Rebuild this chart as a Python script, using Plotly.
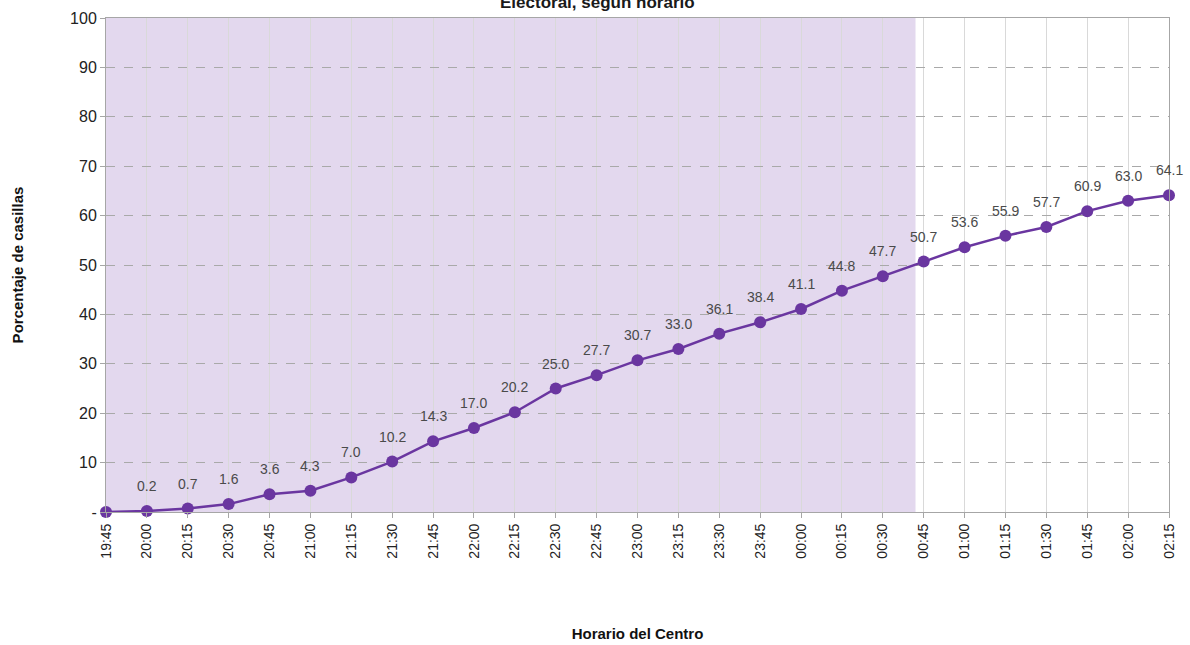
import plotly.graph_objects as go

horas = ["19:45", "20:00", "20:15", "20:30", "20:45", "21:00", "21:15", "21:30", "21:45",
         "22:00", "22:15", "22:30", "22:45", "23:00", "23:15", "23:30", "23:45", "00:00",
         "00:15", "00:30", "00:45", "01:00", "01:15", "01:30", "01:45", "02:00", "02:15"]
porcentaje = [0.0, 0.2, 0.7, 1.6, 3.6, 4.3, 7.0, 10.2, 14.3, 17.0, 20.2, 25.0, 27.7, 30.7,
              33.0, 36.1, 38.4, 41.1, 44.8, 47.7, 50.7, 53.6, 55.9, 57.7, 60.9, 63.0, 64.1]
etiquetas = ["" if v == 0 else f"{v:.1f}" for v in porcentaje]
y_ticks = [0, 10, 20, 30, 40, 50, 60, 70, 80, 90, 100]
y_tick_labels = ["-", "10", "20", "30", "40", "50", "60", "70", "80", "90", "100"]
periodo_sombreado = (0, 19.8)

purple = "#6a36a0"
font = "Liberation Sans, Arial, sans-serif"

fig = go.Figure()
fig.add_trace(go.Scatter(
    x=horas, y=porcentaje, mode="lines+markers",
    line=dict(color=purple, width=2.5),
    marker=dict(color=purple, size=12),
    cliponaxis=False, showlegend=False, hoverinfo="x+y",
))

for h, v, t in zip(horas, porcentaje, etiquetas):
    if t:
        fig.add_annotation(x=h, y=v, text=t, showarrow=False, yshift=25,
                           font=dict(family=font, size=14, color="#4a4a4a"))

fig.add_shape(type="rect", xref="x", yref="paper",
              x0=periodo_sombreado[0], x1=periodo_sombreado[1], y0=0, y1=1,
              fillcolor="#e3d8ee", line=dict(width=0), layer="below")

fig.add_annotation(xref="paper", yref="paper", x=0.5 - (637 - 597) / 1063, y=1.0,
                   yshift=16, yanchor="middle", xanchor="center", showarrow=False,
                   text="<b>Electoral, según horario</b>",
                   font=dict(family=font, size=17, color="#1a1a1a"))

fig.update_layout(
    width=1190, height=645,
    margin=dict(l=106, r=21, t=18, b=133, autoexpand=False),
    paper_bgcolor="white", plot_bgcolor="white",
    font=dict(family=font, color="#222222"),
    xaxis=dict(
        type="category", range=[0, 26], tickangle=-90, automargin=False,
        tickfont=dict(family=font, size=14, color="#222222"),
        showgrid=True, gridcolor="#d9d9d9", gridwidth=1,
        showline=True, linecolor="#a6a6a6", linewidth=1, mirror=True,
        ticks="outside", ticklen=5, tickcolor="#a6a6a6",
        title=dict(text="<b>Horario del Centro</b>", standoff=70,
                   font=dict(family=font, size=15, color="#111111")),
        zeroline=False,
    ),
    yaxis=dict(
        range=[0, 100], tickvals=y_ticks, ticktext=y_tick_labels, automargin=False,
        tickfont=dict(family=font, size=16, color="#222222"),
        showgrid=True, gridcolor="#a9a9a9", griddash="dash", gridwidth=1,
        showline=True, linecolor="#a6a6a6", linewidth=1, mirror=True,
        ticks="outside", ticklen=5, tickcolor="#a6a6a6",
        title=dict(text="<b>Porcentaje de casillas</b>", standoff=42,
                   font=dict(family=font, size=15, color="#111111")),
        zeroline=False,
    ),
)

fig.write_html("out.html", config={"displayModeBar": False},
               post_script="document.body.style.margin='0';")
